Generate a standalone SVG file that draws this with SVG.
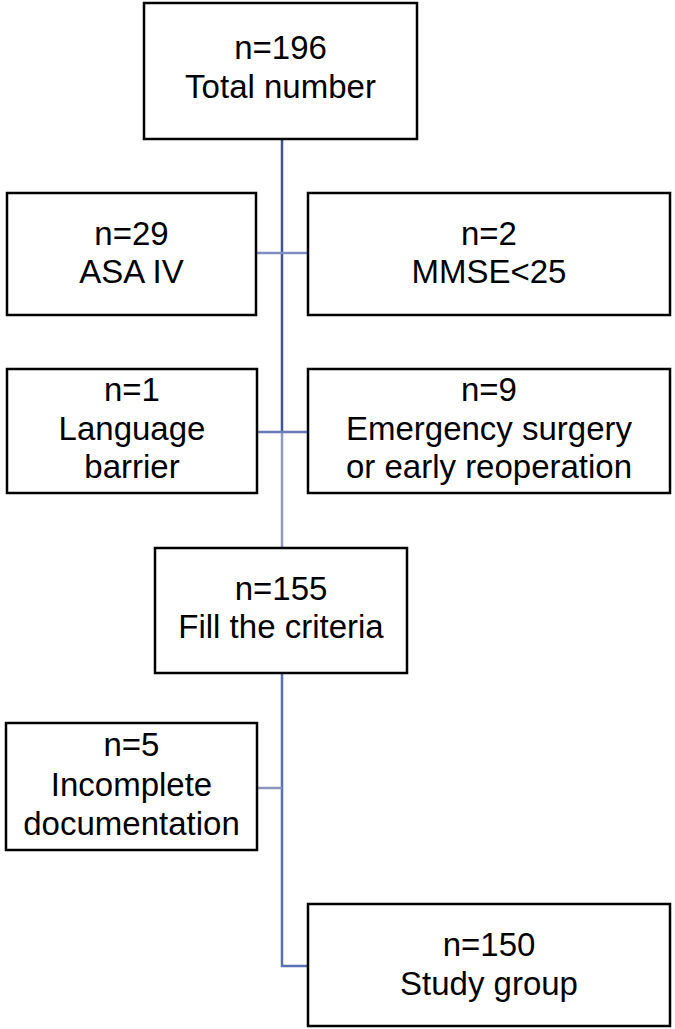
<svg xmlns="http://www.w3.org/2000/svg" width="675" height="1029" viewBox="0 0 675 1029">
<style>
.box{fill:#fff;stroke:#000;stroke-width:2.5}
.t{font-family:"Liberation Sans",Arial,sans-serif;font-size:33px;fill:#000;text-anchor:middle}
.c{fill:none;stroke-width:2.5}
</style>
<rect width="675" height="1029" fill="#fff"/>
<g id="connectors">
<line class="c" x1="282" y1="139" x2="282" y2="432" stroke="#3f5396"/>
<line class="c" x1="282" y1="432" x2="282" y2="548" stroke="#8d9bc4"/>
<polyline class="c" points="282,673 282,966 308,966" stroke="#5a70b4"/>
<line class="c" x1="256" y1="253" x2="308" y2="253" stroke="#7f8fc4"/>
<line class="c" x1="257" y1="432" x2="308" y2="432" stroke="#6a7cb8"/>
<line class="c" x1="257" y1="788" x2="282" y2="788" stroke="#8c94b8"/>
</g>
<g id="total">
<rect class="box" x="144" y="3" width="273" height="136"/>
<text class="t" x="280.5" y="59">n=196</text>
<text class="t" x="280.5" y="98">Total number</text>
</g>
<g id="asa">
<rect class="box" x="7" y="193" width="249" height="122"/>
<text class="t" x="131.5" y="245">n=29</text>
<text class="t" x="131.5" y="283">ASA IV</text>
</g>
<g id="mmse">
<rect class="box" x="308" y="193" width="362" height="122"/>
<text class="t" x="489" y="245">n=2</text>
<text class="t" x="489" y="283">MMSE&lt;25</text>
</g>
<g id="language">
<rect class="box" x="7" y="369" width="250" height="124"/>
<text class="t" x="132" y="401">n=1</text>
<text class="t" x="132" y="440">Language</text>
<text class="t" x="132" y="478">barrier</text>
</g>
<g id="emergency">
<rect class="box" x="308" y="369" width="362" height="124"/>
<text class="t" x="489" y="401">n=9</text>
<text class="t" x="489" y="440">Emergency surgery</text>
<text class="t" x="489" y="478">or early reoperation</text>
</g>
<g id="fill">
<rect class="box" x="155" y="548" width="252" height="125"/>
<text class="t" x="281" y="600">n=155</text>
<text class="t" x="281" y="638">Fill the criteria</text>
</g>
<g id="incomplete">
<rect class="box" x="6" y="723" width="251" height="127"/>
<text class="t" x="131.5" y="756">n=5</text>
<text class="t" x="131.5" y="796">Incomplete</text>
<text class="t" x="131.5" y="835">documentation</text>
</g>
<g id="study">
<rect class="box" x="308" y="904" width="362" height="122"/>
<text class="t" x="489" y="956">n=150</text>
<text class="t" x="489" y="995">Study group</text>
</g>
</svg>
